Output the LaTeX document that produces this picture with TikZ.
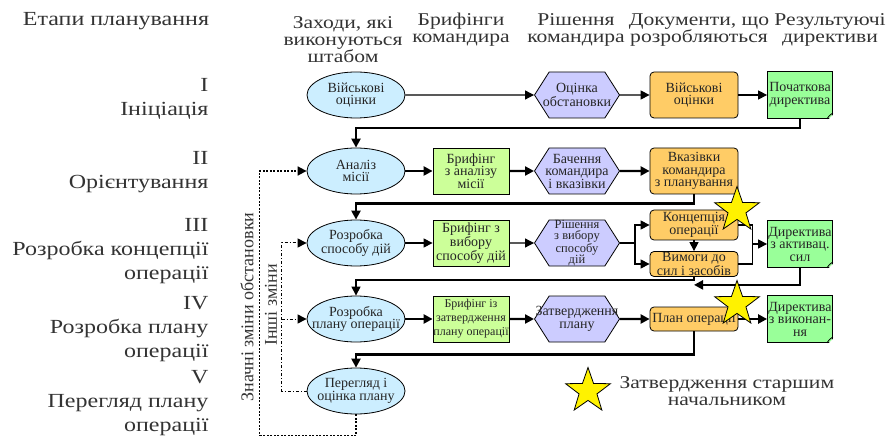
\documentclass[tikz,border=0pt]{standalone}
\usepackage{fontspec}
\setmainfont{Liberation Serif}[FakeStretch=1.2]
\newfontfamily\plainserif{Liberation Serif}
\usepackage{tikz}
\usetikzlibrary{positioning}
\usetikzlibrary{calc}
\usetikzlibrary{shapes}
\usetikzlibrary{arrows.meta}
\definecolor{staffblue}{HTML}{CCEEFF}
\definecolor{briefgreen}{HTML}{CCFF99}
\definecolor{declilac}{HTML}{CCCCFF}
\definecolor{paperorange}{HTML}{FFCC66}
\definecolor{dirgreen}{HTML}{99FF99}
\definecolor{headgray}{HTML}{333333}
\tikzstyle{boxtext}=[font=\plainserif\fontsize{14}{12.5}\selectfont, align=center, text=black!85, line width=0.8pt, draw]
\tikzstyle{staff}=[boxtext, ellipse, fill=staffblue, minimum width=98pt, minimum height=46pt, inner xsep=-20pt, inner ysep=-4pt]
\tikzstyle{brief}=[boxtext, rectangle, fill=briefgreen, minimum width=76pt, minimum height=46pt, inner xsep=-8pt, inner ysep=1pt]
\tikzstyle{decide}=[boxtext, signal, signal to=east and west, signal pointer angle=115, fill=declilac, minimum width=85pt, minimum height=46pt, inner xsep=-14pt, inner ysep=-2pt]
\tikzstyle{paper}=[boxtext, rectangle, rounded corners=4pt, fill=paperorange, minimum width=88pt, minimum height=46pt, inner xsep=-8pt, inner ysep=0pt]
\tikzstyle{directive}=[boxtext, rectangle, fill=dirgreen, minimum width=65pt, minimum height=47pt, inner xsep=-8pt, inner ysep=0pt]
\tikzstyle{approval}=[star, star points=5, star point ratio=2.5, draw, line width=0.8pt, fill=yellow, minimum size=47pt, inner sep=0pt]
\tikzstyle{heading}=[font=\fontsize{18}{17}\selectfont, align=center, text=headgray]
\tikzstyle{stage}=[font=\fontsize{20}{24}\selectfont, align=right, anchor=east, text=headgray]
\tikzstyle{sidelabel}=[font=\plainserif\fontsize{18}{18}\selectfont, rotate=90, text=headgray]
\tikzstyle{flow}=[-{Triangle[length=9pt,width=9pt]}, line width=1.2pt]
\tikzstyle{mainflow}=[flow, line width=2.4pt]
\tikzstyle{majorchange}=[flow, line width=1.6pt, dash pattern=on 2pt off 1.5pt]
\tikzstyle{minorchange}=[flow, line width=1pt, dash pattern=on 3pt off 2pt on 1pt off 2pt]

\begin{document}
\begin{tikzpicture}[x=1pt,y=-1pt]
\newcommand{\briefdx}{115}
\newcommand{\decidedx}{221}
\newcommand{\paperdx}{338}
\newcommand{\dirdx}{444}
\useasboundingbox (0,0) rectangle (896,438);

% column heads
\path (116,21) node (hstage) [heading,font=\fontsize{20}{20}\selectfont] {Етапи планування}
      (343,40) node (hstaff) [heading] {Заходи, які\\виконуються\\штабом}
      (461,30) node (hbrief) [heading] {Брифінги\\командира}
      (576,30) node (hdecide) [heading] {Рішення\\командира}
      (699,30) node (hpaper) [heading] {Документи, що\\розробляються}
      (830,30) node (hdirective) [heading] {Результуючі\\директиви};

% planning stages
\path (212,99) node (stI) [stage] {I\\Ініціація}
      (212,172) node (stII) [stage] {II\\Орієнтування}
      (212,251) node (stIII) [stage] {III\\Розробка концепції\\операції}
      (212,329) node (stIV) [stage] {IV\\Розробка плану\\операції}
      (212,403) node (stV) [stage] {V\\Перегляд плану\\операції};

% I
\path (356,95) node (e1) [staff] {Військові\\оцінки}
      + (\decidedx,0) node (h1) [decide] {Оцінка\\обстановки}
      + (\paperdx,0) node (o1) [paper] {Військові\\оцінки}
      + (\dirdx,0) node (d1) [directive] {Початкова\\директива};
% II
\path (356,171) node (e2) [staff] {Аналіз\\місії}
      + (\briefdx,0) node (b2) [brief] {Брифінг\\з аналізу\\місії}
      + (\decidedx,0) node (h2) [decide] {Бачення\\командира\\і вказівки}
      + (\paperdx,0) node (o2) [paper] {Вказівки\\командира\\з планування};
% III
\path (356,243) node (e3) [staff] {Розробка\\способу дій}
      + (\briefdx,0) node (b3) [brief] {Брифінг з\\вибору\\способу дій}
      + (\decidedx,0) node (h3) [decide,font=\plainserif\fontsize{12.5}{11.5}\selectfont] {Рішення\\з вибору\\способу\\дій}
      + (\paperdx,-18) node (o3a) [paper,minimum height=30pt] {Концепція\\операції}
      + (\paperdx,21) node (o3b) [paper,minimum height=25pt] {Вимоги до\\сил і засобів}
      + (\dirdx,1) node (d3) [directive] {Директива\\з активац.\\сил};
% IV
\path (356,319) node (e4) [staff] {Розробка\\плану операції}
      + (\briefdx,0) node (b4) [brief,font=\plainserif\fontsize{12}{14}\selectfont] {Брифінг із\\затвердження\\плану операції}
      + (\decidedx,0) node (h4) [decide] {Затвердження\\плану}
      + (\paperdx,0) node (o4) [paper,minimum height=24pt] {План операції}
      + (\dirdx,0) node (d4) [directive] {Директива\\з виконан-\\ня};
% V
\path (356,391) node (e5) [staff] {Перегляд і\\оцінка плану};

% folded corners
\foreach \d in {d1,d3,d4} {
  \fill[white] ([xshift=-4pt]\d.south east) -- ([xshift=1pt,yshift=-1pt]\d.south east) -- ([yshift=4pt]\d.south east) -- cycle;
  \draw[line width=0.8pt] ([xshift=-6pt]\d.south east) .. controls ([xshift=-4pt,yshift=3pt]\d.south east) .. ([yshift=6pt]\d.south east);
}

% forward flow
\draw[flow] (e1) edge (h1) (h1) edge (o1) (o1) edge (d1);
\draw[mainflow] (e2) edge (b2) (b2) edge (h2) (h2) edge (o2);
\draw[flow] (e3) edge (b3) (b3) edge (h3);
\path (h3.east) ++(15,0) coordinate (sp3);
\draw[flow] (h3.east) -- (sp3) |- (o3a.west);
\draw[flow] (sp3) |- (o3b.west);
\draw[flow] (o3a) -- (o3b);
\path (d3.west) ++(-15,0) coordinate (jn3);
\draw[line width=1.2pt] (o3a.east) -| (jn3) |- (o3b.east);
\draw[flow] (jn3) -- (d3.west);
\draw[mainflow] (e4) edge (b4) (b4) edge (h4) (h4) edge (o4) (o4) edge (d4);

% next stage
\draw[mainflow] (d1.south) -- ++(0,9) -| (e2.north);
\draw[mainflow] (o2.south) -- ++(0,9) -| (e3.north);
\draw[flow] (o3b.south) -- ++(0,3) -| (e4.north);
\draw[mainflow] (d3.south) |- ([yshift=-8pt]o3b.south);
\draw[mainflow] (o4.south) -- ++(0,23) -| (e5.north);

% changes
\draw[majorchange] (e5.south) -- ++(0,21) -| ([xshift=-47pt]e2.west) -- (e2.west);
\draw[minorchange] (e5.west) -- ++(-25,0) coordinate (mn) |- (e3.west);
\draw[minorchange] (mn |- e4.west) -- (e4.west);
\node (major) [sidelabel] at (247,307) {Значні зміни обстановки};
\node (minor) [sidelabel] at (271,305) {Інші зміни};

% approvals
\node (ok3) [approval] at (737,210) {};
\node (ok4) [approval] at (737,304) {};
\node (okkey) [approval] at (588,391) {};
\node (keytext) [heading,anchor=west] at (616,391) {Затвердження старшим\\начальником};

\end{tikzpicture}
\end{document}
